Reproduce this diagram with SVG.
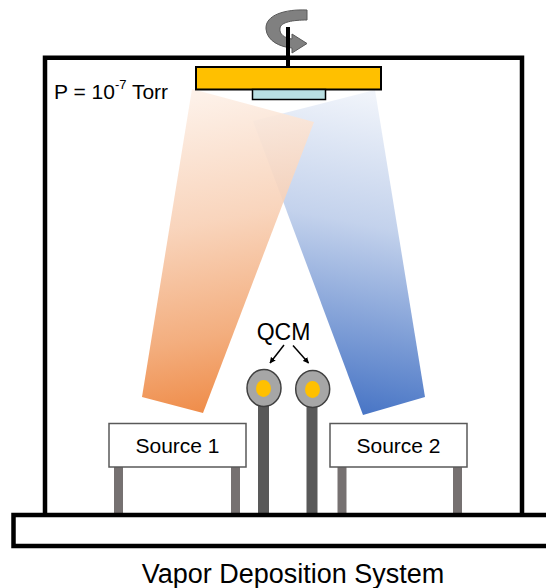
<svg xmlns="http://www.w3.org/2000/svg" width="546" height="588" viewBox="0 0 546 588">
  <style>
    text { font-family: "Liberation Sans", Arial, sans-serif; fill: #000; }
    .wall { fill: none; stroke: #000; stroke-width: 4.5; }
    .box { fill: #fff; stroke: #595959; stroke-width: 1.5; }
    .leg { stroke: #767171; stroke-width: 9; }
    .post { stroke: #595959; stroke-width: 11; }
    .head { fill: #a6a6a6; stroke: #404040; stroke-width: 1.5; }
    .dot { fill: #ffc000; }
    .lbl { font-size: 21px; text-anchor: middle; }
    .conn { stroke: #000; stroke-width: 1.5; fill: none; marker-end: url(#arrow); }
  </style>
  <defs>
    <marker id="arrow" viewBox="0 0 10 10" refX="9" refY="5" markerWidth="6" markerHeight="6" markerUnits="userSpaceOnUse" orient="auto">
      <path d="M0,0 L10,5 L0,10 z" fill="#000"/>
    </marker>
    <linearGradient id="gOrange" x1="0.45" y1="0" x2="0.55" y2="1">
      <stop offset="0" stop-color="#fdf0e7"/>
      <stop offset="0.4" stop-color="#f8d0b5"/>
      <stop offset="0.75" stop-color="#f2a570"/>
      <stop offset="1" stop-color="#ed7d31"/>
    </linearGradient>
    <linearGradient id="gBlue" x1="0.55" y1="0" x2="0.45" y2="1">
      <stop offset="0" stop-color="#4472c4" stop-opacity="0.08"/>
      <stop offset="0.4" stop-color="#4472c4" stop-opacity="0.32"/>
      <stop offset="1" stop-color="#4472c4" stop-opacity="1"/>
    </linearGradient>
  </defs>

  <!-- vapour plumes -->
  <g id="plume-2">
    <polygon points="375,90 253,121 363,415 425,397" fill="url(#gBlue)"/>
  </g>
  <g id="plume-1">
    <polygon points="192,89 314,122 203,413 142,397" fill="url(#gOrange)" fill-opacity="0.9"/>
  </g>

  <!-- vacuum chamber walls -->
  <g id="chamber">
    <path class="wall" d="M45,515 V57.7 H522 V515"/>
    <text x="54" y="99" font-size="21">P = 10<tspan font-size="13" dy="-10">-7</tspan><tspan dy="10"> Torr</tspan></text>
  </g>

  <!-- rotating substrate holder -->
  <g id="rotation">
    <path d="M307,10 C285,9 265,15 266,29 C267,41 280,47 292,48 L292,53 L307,43.5 L292,34 L292,39 C284,38 279,34 280,28 C281,22 293,20 307,20 Z" fill="#808080" stroke="#595959" stroke-width="1"/>
  </g>
  <g id="substrate-holder">
    <line x1="288" y1="27" x2="288" y2="67" stroke="#000" stroke-width="4"/>
    <rect x="196" y="67" width="185" height="22.5" fill="#ffc000" stroke="#000" stroke-width="2"/>
    <rect x="252.5" y="89.5" width="73" height="10" fill="#b9dfe2" stroke="#000" stroke-width="1.5"/>
  </g>

  <!-- evaporation sources -->
  <g id="source-1">
    <line class="leg" x1="118.5" y1="467" x2="118.5" y2="514"/>
    <line class="leg" x1="235.5" y1="467" x2="235.5" y2="514"/>
    <rect class="box" x="109" y="423.5" width="137" height="43.5"/>
    <text class="lbl" x="177.5" y="453">Source 1</text>
  </g>
  <g id="source-2">
    <line class="leg" x1="342" y1="467" x2="342" y2="514"/>
    <line class="leg" x1="457.5" y1="467" x2="457.5" y2="514"/>
    <rect class="box" x="330" y="423.5" width="137" height="43.5"/>
    <text class="lbl" x="398.5" y="453">Source 2</text>
  </g>

  <!-- quartz crystal monitors -->
  <g id="qcm-1">
    <line class="post" x1="263.5" y1="400" x2="263.5" y2="514"/>
    <ellipse class="head" cx="264" cy="388" rx="17" ry="18.5"/>
    <ellipse class="dot" cx="263.5" cy="388.5" rx="7.5" ry="8.5"/>
  </g>
  <g id="qcm-2">
    <line class="post" x1="312" y1="400" x2="312" y2="514"/>
    <ellipse class="head" cx="312.7" cy="389" rx="17" ry="18.5"/>
    <ellipse class="dot" cx="312.5" cy="389.5" rx="7.5" ry="8.5"/>
  </g>
  <g id="qcm-label">
    <text x="283.5" y="340" font-size="23" text-anchor="middle">QCM</text>
  </g>

  <!-- base plate -->
  <g id="base">
    <rect class="wall" x="13.5" y="515" width="545" height="31" fill="#fff"/>
  </g>

  <g id="connectors">
    <line class="conn" x1="284" y1="345" x2="270" y2="363"/>
    <line class="conn" x1="293" y1="345.5" x2="308.5" y2="363"/>
  </g>

  <g id="title">
    <text x="293" y="583" font-size="27" text-anchor="middle">Vapor Deposition System</text>
  </g>
</svg>
